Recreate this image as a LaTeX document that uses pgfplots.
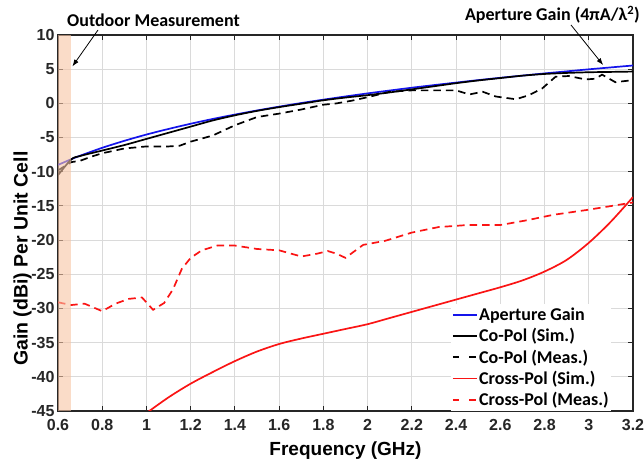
\documentclass[border=0pt]{standalone}
\usepackage{fontspec}
\setmainfont{Carlito}
\newfontfamily\arialb{Liberation Sans}
\usepackage{pgfplots}
\pgfplotsset{compat=1.18}
\usetikzlibrary{arrows.meta}
\definecolor{bandc}{RGB}{246,196,164}
\definecolor{gridc}{RGB}{218,218,218}
\definecolor{axc}{RGB}{38,38,38}
\definecolor{myblue}{RGB}{20,20,235}
\definecolor{myred}{RGB}{250,20,20}
\begin{document}
\begin{tikzpicture}
\begin{axis}[
  scale only axis, width=575pt, height=376pt,
  xmin=0.6, xmax=3.2, ymin=-45, ymax=10,
  xtick={0.6,0.8,...,3.21}, ytick={-45,-40,...,10},
  xticklabels={0.6,0.8,1,1.2,1.4,1.6,1.8,2,2.2,2.4,2.6,2.8,3,3.2},
  grid=major, major grid style={gridc, line width=0.9pt},
  axis line style={axc, line width=1.3pt},
  tick style={axc, line width=1.1pt}, major tick length=5pt,
  tick align=inside, xtick pos=both, ytick pos=both,
  /pgf/number format/assume math mode=true,
  ticklabel style={font=\arialb\bfseries\fontsize{16}{18}\selectfont, text=axc},
  xticklabel style={yshift=-5pt},
  xlabel={Frequency (GHz)}, ylabel={Gain (dBi) Per Unit Cell},
  label style={font=\arialb\bfseries\fontsize{19}{22}\selectfont, text=black},
  xlabel style={at={(axis description cs:0.5,-0.1064)}, anchor=center},
  ylabel style={at={(axis description cs:-0.0614,0.405)}, anchor=center, font=\arialb\bfseries\fontsize{19.5}{23}\selectfont},
  legend style={at={(axis description cs:0.683,0)}, anchor=south west, draw=none, fill=white,
    font=\bfseries\fontsize{18}{21}\selectfont, row sep=3.5pt, inner xsep=1pt, inner ysep=2pt,
    nodes={inner sep=1.5pt}},
  legend cell align=left,
  legend image code/.code={\draw[#1] (0pt,0pt) -- (24pt,0pt);},
  clip=true,
]
\addplot[myblue, line width=1.7pt, smooth] coordinates {
(0.6,-9.00) (0.66,-8.17) (0.7,-7.66) (0.8,-6.50) (0.9,-5.48) (1.0,-4.56) (1.1,-3.74) (1.2,-2.98)
(1.3,-2.28) (1.4,-1.64) (1.5,-1.04) (1.6,-0.48) (1.7,0.05) (1.8,0.54) (1.9,1.01) (2.0,1.46)
(2.1,1.88) (2.2,2.29) (2.3,2.67) (2.4,3.04) (2.5,3.40) (2.6,3.74) (2.7,4.06) (2.8,4.38)
(2.9,4.68) (3.0,4.98) (3.1,5.26) (3.2,5.54)};
\addlegendentry{Aperture Gain}
\addplot[black, line width=1.7pt, smooth] coordinates {
(0.6,-10.5) (0.66,-8.2) (0.7,-7.7) (0.8,-6.9) (0.9,-6.1) (1.0,-5.2) (1.1,-4.3) (1.2,-3.4)
(1.3,-2.5) (1.4,-1.75) (1.5,-1.1) (1.6,-0.55) (1.7,-0.05) (1.8,0.45) (1.9,0.85) (2.0,1.2)
(2.1,1.6) (2.2,2.05) (2.3,2.5) (2.4,2.95) (2.5,3.35) (2.6,3.7) (2.7,4.05) (2.8,4.3)
(2.9,4.45) (3.0,4.55) (3.1,4.6) (3.2,4.65)};
\addlegendentry{Co-Pol (Sim.)}
\addplot[black, line width=1.7pt, dash pattern=on 7.5pt off 5pt,
  legend image code/.code={\draw[black, line width=1.7pt, dash pattern=on 6.7pt off 10pt] (0pt,0pt) -- (24pt,0pt);}] coordinates {
(0.6,-9.8) (0.66,-8.6) (0.7,-8.4) (0.75,-7.8) (0.8,-7.3) (0.9,-6.6) (1.0,-6.3) (1.1,-6.3)
(1.15,-6.2) (1.2,-5.6) (1.3,-4.7) (1.4,-3.2) (1.5,-2.0) (1.6,-1.5) (1.7,-0.9) (1.8,-0.2)
(1.86,0.0) (1.93,0.4) (2.0,0.9) (2.1,1.7) (2.2,1.9) (2.3,1.9) (2.4,1.9) (2.46,1.3)
(2.52,1.7) (2.58,1.0) (2.67,0.6) (2.73,1.2) (2.79,2.2) (2.85,3.9) (2.91,4.0) (2.985,3.5)
(3.03,3.6) (3.06,4.2) (3.12,3.1) (3.2,3.4)};
\addlegendentry{Co-Pol (Meas.)}
\addplot[myred, line width=1.7pt, smooth] coordinates {
(1.0,-45.3) (1.1,-43.0) (1.2,-41.0) (1.3,-39.3) (1.4,-37.7) (1.5,-36.3) (1.6,-35.2)
(1.7,-34.4) (1.8,-33.7) (1.9,-33.0) (2.0,-32.3) (2.1,-31.4) (2.2,-30.5) (2.3,-29.6)
(2.4,-28.7) (2.5,-27.8) (2.6,-26.9) (2.7,-25.9) (2.8,-24.6) (2.9,-22.9) (3.0,-20.4)
(3.1,-17.3) (3.2,-13.7)};
\addlegendentry{Cross-Pol (Sim.)}
\addplot[myred, line width=1.7pt, dash pattern=on 7.5pt off 5pt,
  legend image code/.code={\draw[myred, line width=1.7pt, dash pattern=on 6.7pt off 10pt] (0pt,0pt) -- (24pt,0pt);}] coordinates {
(0.6,-29.1) (0.66,-29.5) (0.72,-29.3) (0.8,-30.4) (0.86,-29.3) (0.92,-28.6) (0.98,-28.4)
(1.03,-30.2) (1.08,-29.2) (1.12,-27.2) (1.16,-24.2) (1.2,-22.6) (1.25,-21.5) (1.32,-20.8)
(1.4,-20.8) (1.5,-21.3) (1.6,-21.5) (1.7,-22.4) (1.77,-22.0) (1.82,-21.6) (1.86,-22.0)
(1.90,-22.6) (1.95,-21.4) (1.98,-20.7) (2.08,-20.1) (2.2,-18.9) (2.32,-18.1) (2.45,-17.8)
(2.6,-17.8) (2.72,-17.1) (2.84,-16.3) (2.99,-15.6) (3.2,-14.5)};
\addlegendentry{Cross-Pol (Meas.)}
\addplot[draw=none, fill=bandc, fill opacity=0.6, forget plot] coordinates {
(0.6,-45) (0.66,-45) (0.66,10) (0.6,10)} -- cycle;
\coordinate (SW) at (rel axis cs:0,0);
\coordinate (NE) at (rel axis cs:1,1);
\coordinate (A1) at (axis cs:0.665,5.4);
\coordinate (A2) at (axis cs:3.065,5.6);
\end{axis}
\node[font=\bfseries\fontsize{18}{21}\selectfont, anchor=base west, inner sep=0pt] at ([shift={(9pt,8pt)}]NE -| SW) {Outdoor Measurement};
\draw[-{Latex[length=7pt,width=5pt]}, line width=0.8pt] ([shift={(40pt,5pt)}]SW |- NE) -- (A1);
\node[font=\bfseries\fontsize{18}{21}\selectfont, anchor=base east, inner sep=0pt] at ([shift={(7pt,14pt)}]NE) {Aperture Gain (4πA/λ\textsuperscript{2})};
\draw[-{Latex[length=7pt,width=5pt]}, line width=0.8pt] ([shift={(-62pt,10pt)}]NE) -- (A2);
\pgfresetboundingbox
\path[use as bounding box] ([shift={(-58pt,-53pt)}]SW) rectangle ([shift={(11pt,35pt)}]NE);
\end{tikzpicture}
\end{document}
